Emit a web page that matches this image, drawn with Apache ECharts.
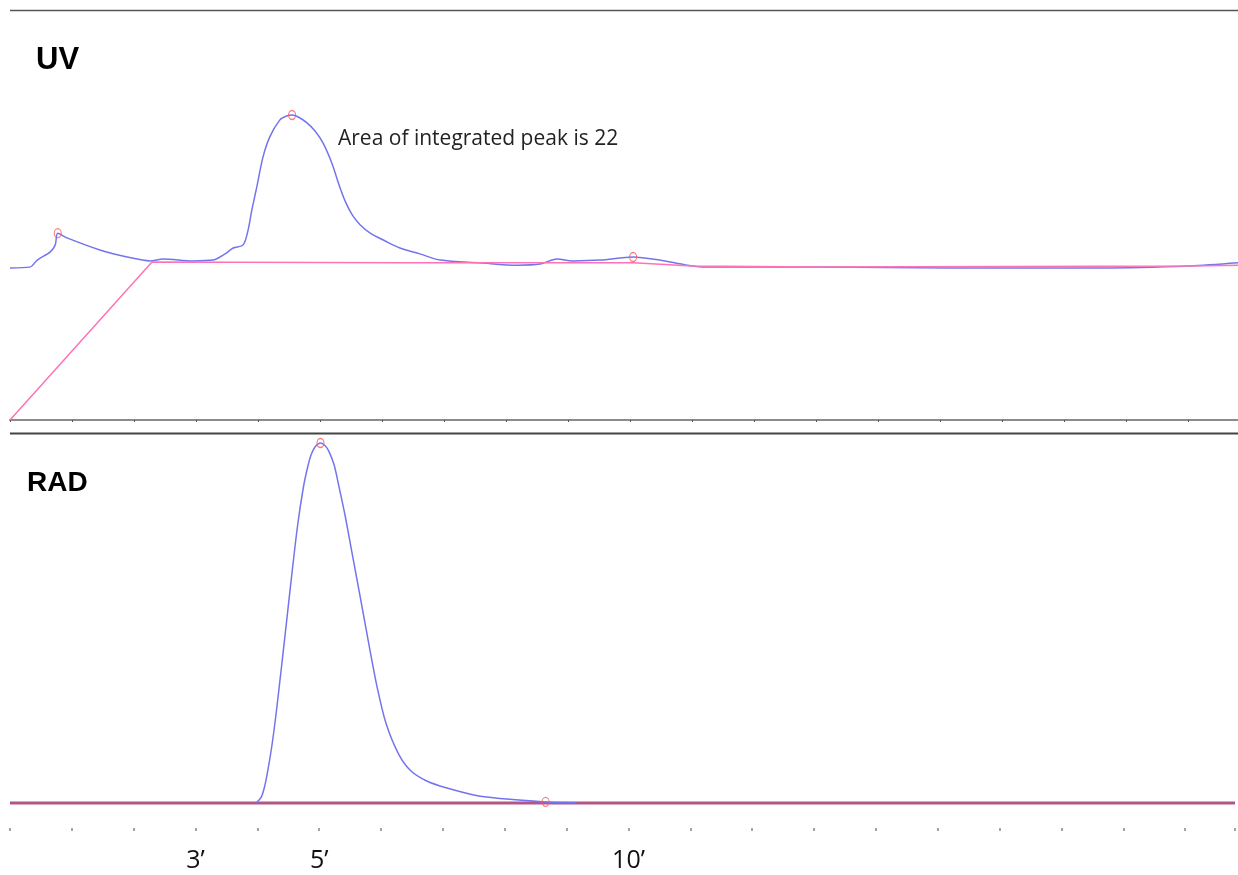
<!DOCTYPE html>
<html>
<head>
<meta charset="utf-8">
<script src="https://cdn.jsdelivr.net/npm/echarts@6/dist/echarts.min.js"></script>
<style>
html,body{margin:0;padding:0;background:#fff;}
#c{width:1238px;height:875px;}
</style>
</head>
<body>
<div id="c"></div>
<script>
// ---- data (time in minutes, signal in arbitrary units 0-100) ----
const uvTime   = [0,0.32,0.44,0.65,0.73,0.77,0.92,1.45,1.89,2.26,2.47,2.95,3.27,3.47,3.6,3.76,3.84,3.9,3.98,4.08,4.19,4.35,4.45,4.55,4.65,4.79,4.92,5.05,5.19,5.32,5.42,5.52,5.65,5.81,6.05,6.29,6.61,6.94,7.58,8.18,8.55,8.82,9.08,9.52,10.05,10.48,10.92,11.24,13.06,15.16,17.58,19.03,19.81];
const uvSignal = [39.0,39.2,41.0,43.1,44.9,47.9,46.7,43.6,41.8,40.8,41.3,40.8,41.0,42.6,44.1,44.9,48.7,53.8,59.7,67.4,72.6,76.9,77.9,78.2,77.7,76.2,74.1,71.0,65.9,59.7,55.6,52.6,50.0,47.9,45.9,44.1,42.6,41.0,40.3,39.7,40.0,41.3,40.8,41.0,41.8,41.0,39.7,39.2,39.2,39.0,39.0,39.5,40.3];
const uvBaseTime   = [0,2.29,6.29,10.05,11.0,13.06,19.03,19.81];
const uvBaseSignal = [0,40.5,40.3,40.3,39.5,39.2,39.5,39.7];
const uvPeakTime   = [0.77,4.55,10.05];
const uvPeakSignal = [47.9,78.2,41.8];

const radTime   = [3.98,4.06,4.11,4.16,4.23,4.29,4.35,4.42,4.48,4.56,4.65,4.74,4.81,4.87,4.94,5.02,5.1,5.16,5.24,5.32,5.42,5.53,5.65,5.76,5.84,5.94,6.08,6.29,6.48,6.73,7.05,7.58,8.23,8.66,9.16];
const radSignal = [0,1.5,4.0,8.0,15.0,22.5,31.0,41.3,50.3,62.3,75.0,85.0,90.6,94.2,96.4,97.3,96.5,94.9,91.4,85.4,77.5,67.6,56.8,46.8,39.5,31.0,21.5,13.0,8.7,6.0,4.1,1.9,0.8,0.3,0.1];
const radBaseTime   = [0,19.806];
const radBaseSignal = [0,0];
const radPeakTime   = [5.02,8.66];
const radPeakSignal = [97.3,0.3];

const tickLabelMinutes = [3,5,10];
const tickLabelTexts   = ['3\u2019','5\u2019','10\u2019'];
const panelTitles = ['UV','RAD'];
const annotationText = 'Area of integrated peak is 22';

const X_MAX = 19.806;
const RAD_Y_MIN = -6.757; // leaves room between the RAD baseline and the time ticks
const zip = (a,b)=>a.map((v,i)=>[v,b[i]]);

const chart = echarts.init(document.getElementById('c'), null, {renderer:'canvas'});

const blue = '#7474ee';
const pink = '#ff73b6';
const red  = '#ff5a5a';

const markerSeries = (xi, yi, t, s) => ({
  type:'scatter', xAxisIndex:xi, yAxisIndex:yi, data:zip(t,s),
  symbol:'circle', symbolSize:[7,9], z:5,
  itemStyle:{color:'rgba(0,0,0,0)', borderColor:red, borderWidth:1.2},
  silent:true
});

chart.setOption({
  animation:false,
  backgroundColor:'#fff',
  title:[
    {text:panelTitles[0], left:31, top:40, textStyle:{fontFamily:'Liberation Sans', fontWeight:'bold', fontSize:31, color:'#000'}},
    {text:panelTitles[1], left:22, top:464, textStyle:{fontFamily:'Liberation Sans', fontWeight:'bold', fontSize:28, color:'#000'}}
  ],
  grid:[
    {left:10, right:0, top:30, bottom:455},
    {left:10, right:0, top:433, bottom:47}
  ],
  xAxis:[
    {gridIndex:0, type:'value', min:0, max:X_MAX, interval:1,
      axisLine:{show:true, lineStyle:{color:'#8c8c8c', width:2}},
      axisTick:{show:true, length:2, lineStyle:{color:'#555', width:1}},
      axisLabel:{show:false}, splitLine:{show:false}},
    {gridIndex:1, type:'value', min:0, max:X_MAX, interval:1, position:'bottom',
      axisLine:{show:false, onZero:false},
      axisTick:{show:true, length:3, lineStyle:{color:'#888', width:1.5}},
      axisLabel:{show:true, margin:20, fontFamily:'Open Sans', fontSize:25, color:'#111',
        formatter:(v)=>{const i=tickLabelMinutes.indexOf(Math.round(v)); return (i>=0 && Math.abs(v-tickLabelMinutes[i])<1e-6)?tickLabelTexts[i]:'';}},
      splitLine:{show:false}}
  ],
  yAxis:[
    {gridIndex:0, type:'value', min:0, max:100, show:false, splitLine:{show:false}},
    {gridIndex:1, type:'value', min:RAD_Y_MIN, max:100, show:false, splitLine:{show:false}}
  ],
  graphic:[
    {type:'line', shape:{x1:10,y1:10.5,x2:1238,y2:10.5}, style:{stroke:'#555', lineWidth:1.5}, silent:true},
    {type:'line', shape:{x1:10,y1:433.5,x2:1238,y2:433.5}, style:{stroke:'#444', lineWidth:2}, silent:true},
    {type:'text', left:338, top:129, style:{text:annotationText, fontFamily:'Open Sans', fontSize:21, fill:'#222'}, silent:true}
  ],
  series:[
    {type:'line', xAxisIndex:0, yAxisIndex:0, data:zip(uvBaseTime,uvBaseSignal), showSymbol:false,
      lineStyle:{color:pink, width:1.5}, z:3, silent:true},
    {type:'line', xAxisIndex:0, yAxisIndex:0, data:zip(uvTime,uvSignal), showSymbol:false, smooth:0.3,
      lineStyle:{color:blue, width:1.5}, z:2, silent:true},
    markerSeries(0,0,uvPeakTime,uvPeakSignal),
    {type:'line', xAxisIndex:1, yAxisIndex:1, data:zip(radBaseTime,radBaseSignal), showSymbol:false,
      lineStyle:{color:'#b4558a', width:3}, z:2, silent:true},
    {type:'line', xAxisIndex:1, yAxisIndex:1, data:zip(radTime,radSignal), showSymbol:false, smooth:0.3,
      lineStyle:{color:blue, width:1.5}, z:3, silent:true},
    markerSeries(1,1,radPeakTime,radPeakSignal)
  ]
});
</script>
</body>
</html>
